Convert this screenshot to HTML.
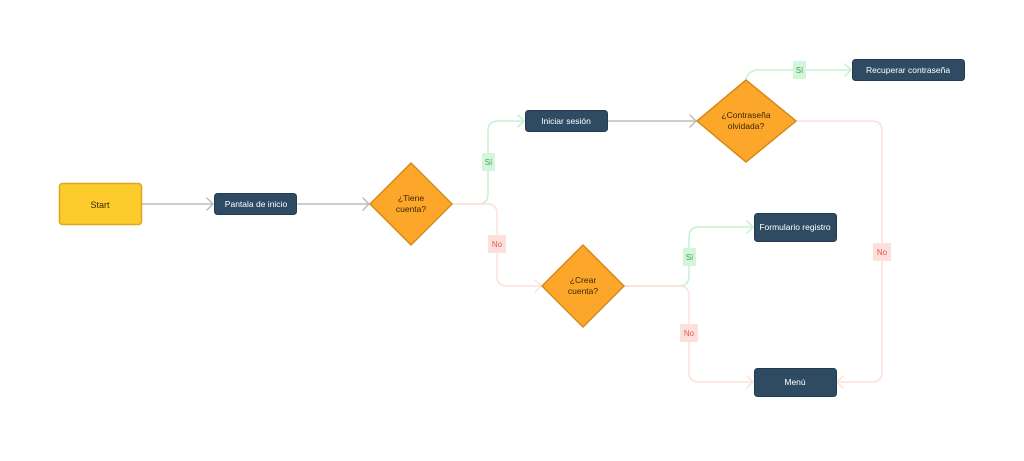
<!DOCTYPE html>
<html><head><meta charset="utf-8"><style>
html,body{margin:0;padding:0;background:#fff;}
svg text{font-family:"Liberation Sans",sans-serif;}
</style></head><body>
<svg width="1024" height="456" viewBox="0 0 1024 456" xmlns="http://www.w3.org/2000/svg">
<g fill="none" stroke-width="1.5" stroke-linecap="round" stroke-linejoin="round">
<!-- gray -->
<path d="M142 204 H213" stroke="#bdbdbd"/><path d="M207 198 L213 204 L207 210" stroke="#bdbdbd"/>
<path d="M298 204 H369" stroke="#bdbdbd"/><path d="M363 198 L369 204 L363 210" stroke="#bdbdbd"/>
<path d="M608 121 H696" stroke="#bdbdbd"/><path d="M690 115 L696 121 L690 127" stroke="#bdbdbd"/>
<!-- green -->
<path d="M452 204 H478 Q488 204 488 194 V131 Q488 121 498 121 H524" stroke="#c8f0d0"/><path d="M518 115 L524 121 L518 127" stroke="#c8f0d0"/>
<path d="M624 286 H679 Q689 286 689 276 V237 Q689 227 699 227 H753" stroke="#c8f0d0"/><path d="M747 221 L753 227 L747 233" stroke="#c8f0d0"/>
<path d="M746 80 V78 Q750 70 758 70 H851" stroke="#c8f0d0"/><path d="M845 64 L851 70 L845 76" stroke="#c8f0d0"/>
<!-- red -->
<path d="M452 204 H487 Q497 204 497 214 V276 Q497 286 507 286 H541" stroke="#fde0dc"/><path d="M535 280 L541 286 L535 292" stroke="#fde0dc"/>
<path d="M624 286 H679 Q689 286 689 296 V372 Q689 382 699 382 H753" stroke="#fde0dc"/><path d="M747 376 L753 382 L747 388" stroke="#fde0dc"/>
<path d="M796 121 H872 Q882 121 882 131 V372 Q882 382 872 382 H837" stroke="#fde0dc"/><path d="M843 376 L837 382 L843 388" stroke="#fde0dc"/>
</g>
<!-- nodes -->
<rect x="59.5" y="183.5" width="82" height="41" rx="3" fill="#fdcb2c" stroke="#d9a81e" stroke-width="1.5"/>
<text x="100" y="208" font-size="9" text-anchor="middle" fill="#3a2a00">Start</text>
<g fill="#2f4b63" stroke="#233b50" stroke-width="1">
<rect x="214.5" y="193.5" width="82" height="21" rx="3"/>
<rect x="525.5" y="110.5" width="82" height="21" rx="3"/>
<rect x="852.5" y="59.5" width="112" height="21" rx="3"/>
<rect x="754.5" y="213.5" width="82" height="28" rx="3"/>
<rect x="754.5" y="368.5" width="82" height="28" rx="3"/>
</g>
<g font-size="8.5" fill="#ffffff" text-anchor="middle">
<text x="256" y="207">Pantala de inicio</text>
<text x="566" y="124">Iniciar sesión</text>
<text x="908" y="73">Recuperar contraseña</text>
<text x="795" y="230">Formulario registro</text>
<text x="795" y="385">Menú</text>
</g>
<g fill="#fca729" stroke="#d68a1a" stroke-width="1.5" stroke-linejoin="round">
<path d="M411 163 L452 204 L411 245 L370 204 Z"/>
<path d="M746 80 L796 121 L746 162 L697 121 Z"/>
<path d="M583 245 L624 286 L583 327 L542 286 Z"/>
</g>
<g font-size="8.5" fill="#3a2600" text-anchor="middle">
<text x="411" y="201">¿Tiene</text><text x="411" y="212">cuenta?</text>
<text x="746" y="118">¿Contraseña</text><text x="746" y="129">olvidada?</text>
<text x="583" y="283">¿Crear</text><text x="583" y="294">cuenta?</text>
</g>
<!-- labels -->
<g font-size="8" text-anchor="middle">
<rect x="482" y="153" width="13" height="18" rx="1" fill="#d3f5da"/><text x="488.5" y="165" fill="#3aa356">Sí</text>
<rect x="793" y="61" width="13" height="18" rx="1" fill="#d3f5da"/><text x="799.5" y="73" fill="#3aa356">Sí</text>
<rect x="683" y="248" width="13" height="18" rx="1" fill="#d3f5da"/><text x="689.5" y="260" fill="#3aa356">Sí</text>
<rect x="488" y="235" width="18" height="18" rx="1" fill="#fde0dc"/><text x="497" y="247" fill="#e4574a">No</text>
<rect x="680" y="324" width="18" height="18" rx="1" fill="#fde0dc"/><text x="689" y="336" fill="#e4574a">No</text>
<rect x="873" y="243" width="18" height="18" rx="1" fill="#fde0dc"/><text x="882" y="255" fill="#e4574a">No</text>
</g>
</svg>
</body></html>
